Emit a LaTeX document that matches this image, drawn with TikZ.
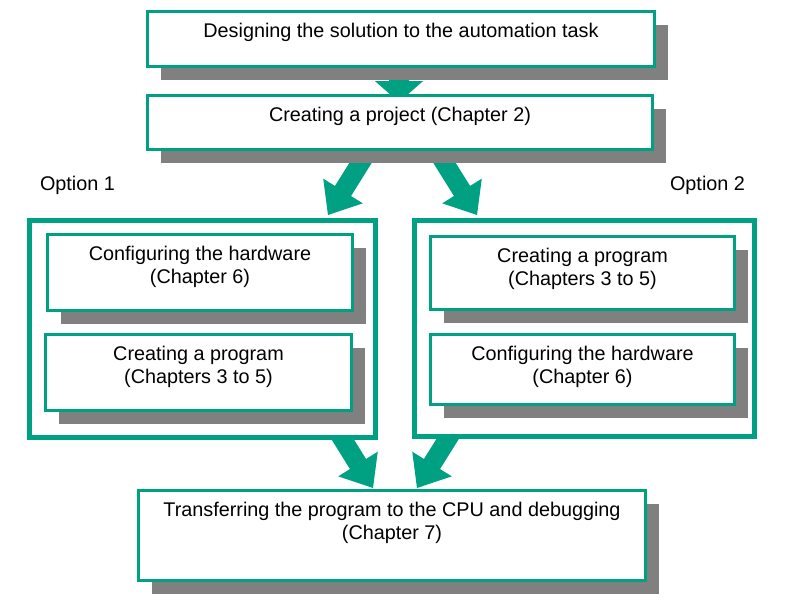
\documentclass[tikz,border=0pt]{standalone}
\usepackage{fontspec}
\setmainfont{Liberation Sans}
\usetikzlibrary{calc,shadows}
\definecolor{tgreen}{RGB}{0,160,130}
\definecolor{sgray}{RGB}{128,128,128}
\pgfdeclarelayer{background}
\pgfsetlayers{background,main}
% #1 start, #2 tip, #3 shaft half width, #4 head half width, #5 head length
\newcommand\fatarrow[5]{%
  \coordinate (fah) at ($(#2)!#5!(#1)$);
  \fill[tgreen] ($(#1)!#3!90:(#2)$) -- ($(fah)!#3!90:(#2)$) -- ($(fah)!#4!90:(#2)$) -- (#2)
    -- ($(fah)!#4!-90:(#2)$) -- ($(fah)!#3!-90:(#2)$) -- ($(#1)!#3!-90:(#2)$) -- cycle;}
\begin{document}
\begin{tikzpicture}[x=1pt,y=-1pt,
  box/.style={draw=tgreen, line width=3.3pt, fill=white, rectangle, inner sep=0pt, outer sep=0pt,
    drop shadow={shadow xshift=13.5pt, shadow yshift=-13.5pt, fill=sgray, opacity=1}},
  outerbox/.style={draw=tgreen, line width=4.8pt, fill=white, rectangle, inner sep=0pt, outer sep=0pt},
  txt/.style={font=\fontsize{19.8}{23.4}\selectfont, align=center, inner sep=0pt, anchor=north},
  lbl/.style={font=\fontsize{19.8}{23.4}\selectfont, inner sep=0pt}]
\useasboundingbox (0,0) rectangle (811,606);
\node[box, minimum width=506.8pt, minimum height=54.8pt] (d) at (401,39) {};
\node[txt] (dtx) at ($(d.north)+(0,11)$) {Designing the solution to the automation task};
\node[box, minimum width=504.8pt, minimum height=53.8pt] (p) at (400,122.5) {};
\node[txt] (ptx) at ($(p.north)+(0,11)$) {Creating a project (Chapter 2)};
\node[lbl] (op1) at (77.5,185) {Option 1};
\node[lbl] (op2) at (707.5,185) {Option 2};
\node[outerbox, minimum width=346.2pt, minimum height=217.2pt] (o1) at (202.5,329) {};
\node[outerbox, minimum width=340.2pt, minimum height=216.2pt] (o2) at (584.5,328.5) {};
\node[box, minimum width=304.8pt, minimum height=75.8pt] (h1) at (200,272.5) {};
\node[txt] (h1tx) at ($(h1.north)+(0,11)$) {Configuring the hardware\\(Chapter 6)};
\node[box, minimum width=305.8pt, minimum height=75.8pt] (s1) at (198.5,372.5) {};
\node[txt] (s1tx) at ($(s1.north)+(0,11)$) {Creating a program\\(Chapters 3 to 5)};
\node[box, minimum width=303.8pt, minimum height=72.8pt] (s2) at (582.5,273) {};
\node[txt] (s2tx) at ($(s2.north)+(0,11)$) {Creating a program\\(Chapters 3 to 5)};
\node[box, minimum width=303.8pt, minimum height=69.8pt] (h2) at (582.5,369.5) {};
\node[txt] (h2tx) at ($(h2.north)+(0,11)$) {Configuring the hardware\\(Chapter 6)};
\node[box, minimum width=506.8pt, minimum height=89.8pt] (t) at (392,535.5) {};
\node[txt] (ttx) at ($(t.north)+(0,11)$) {Transferring the program to the CPU and debugging\\(Chapter 7)};
\begin{pgfonlayer}{background}
  \coordinate (a0s) at ($(d.center)+(-2,0)$);
  \coordinate (a0t) at ($(p.north)+(-1,6.5)$);
  \fatarrow{a0s}{a0t}{10pt}{24pt}{21pt}
  \coordinate (a1s) at ($(p.south)+(-29.6,-2.3)$);
  \coordinate (a1t) at ($(o1.north east)+(-47.6,-5.4)$);
  \fatarrow{a1s}{a1t}{9.5pt}{23.3pt}{28.3pt}
  \coordinate (a2s) at ($(p.south)+(34.6,-2.3)$);
  \coordinate (a2t) at ($(o2.north west)+(62.6,-5.4)$);
  \fatarrow{a2s}{a2t}{9.5pt}{23.3pt}{28.3pt}
  \coordinate (a3s) at ($(o1.south east)+(-45,-17.5)$);
  \coordinate (a3t) at ($(t.north)+(-19,-2.6)$);
  \fatarrow{a3s}{a3t}{9.5pt}{23.3pt}{28.3pt}
  \coordinate (a4s) at ($(o2.south west)+(45,-16.5)$);
  \coordinate (a4t) at ($(t.north)+(25,-2.6)$);
  \fatarrow{a4s}{a4t}{9.5pt}{23.3pt}{28.3pt}
\end{pgfonlayer}
\end{tikzpicture}
\end{document}
